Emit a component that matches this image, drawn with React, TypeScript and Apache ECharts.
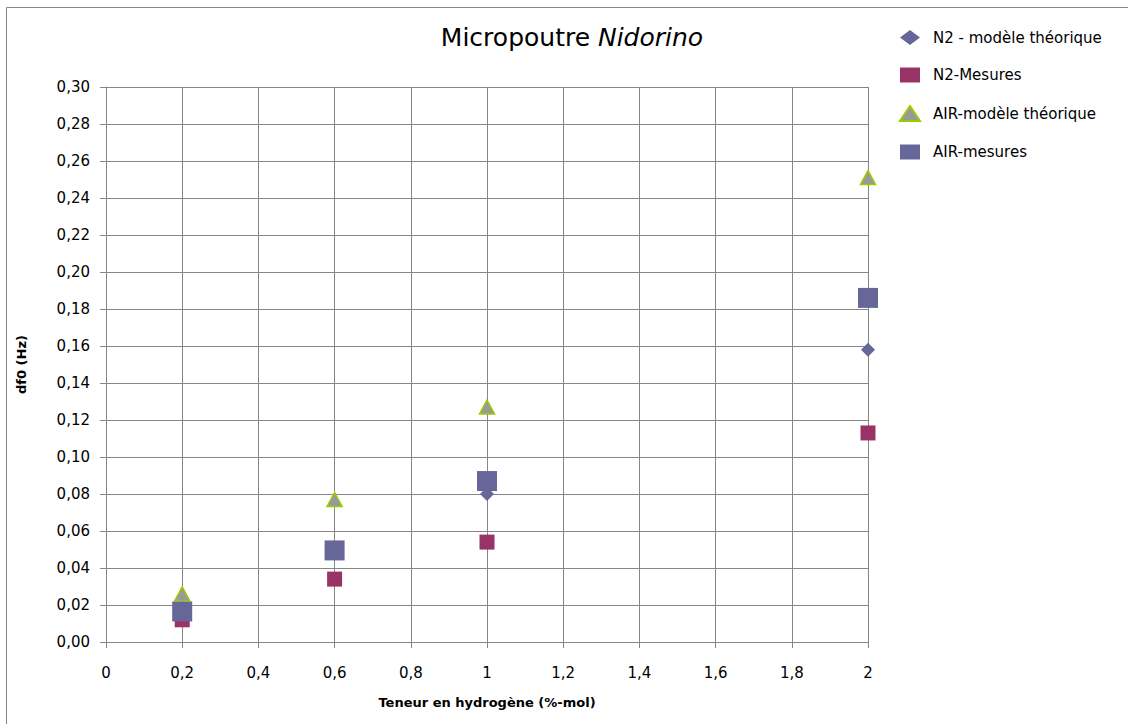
import React, { useEffect, useRef } from "react";
import * as echarts from "echarts";

const xTickLabels = ["0", "0,2", "0,4", "0,6", "0,8", "1", "1,2", "1,4", "1,6", "1,8", "2"];
const teneur = [0.2, 0.6, 1, 2];
const n2Theorique = [0.016, 0.049, 0.080, 0.158];
const n2Mesures = [0.012, 0.034, 0.054, 0.113];
const airTheorique = [0.026, 0.077, 0.127, 0.251];
const airMesures = [0.0165, 0.0495, 0.087, 0.186];

const seriesNames = ["N2 - modèle théorique", "N2-Mesures", "AIR-modèle théorique", "AIR-mesures"];

const FONT = "'DejaVu Sans', 'Open Sans', sans-serif";

function pairs(xs: number[], ys: number[]) {
  return xs.map((x, i) => [x, ys[i]]);
}

export default function App() {
  const ref = useRef<HTMLDivElement>(null);
  useEffect(() => {
    if (!ref.current) return;
    const chart = echarts.init(ref.current, null, { renderer: "svg" });
    const fmtX = (v: number) => {
      const idx = Math.round(v / 0.2);
      return xTickLabels[idx] ?? "";
    };
    chart.setOption({
      animation: false,
      backgroundColor: "#ffffff",
      title: {
        text: "Micropoutre {i|Nidorino}",
        left: 567,
        textAlign: "center",
        top: 20,
        textStyle: {
          fontFamily: FONT,
          fontSize: 25,
          fontWeight: "normal",
          color: "#000",
          rich: {
            i: { fontFamily: FONT, fontSize: 25, fontStyle: "italic", color: "#000" },
          },
        },
      },
      legend: {
        orient: "vertical",
        left: 894,
        top: 25,
        itemGap: 22.5,
        itemWidth: 20,
        itemHeight: 15,
        textStyle: { fontFamily: FONT, fontSize: 15, color: "#000", padding: [0, 0, 0, 8] },
        data: [
          { name: seriesNames[0], icon: "diamond" },
          { name: seriesNames[1], icon: "rect" },
          { name: seriesNames[2], icon: "triangle" },
          { name: seriesNames[3], icon: "rect" },
        ],
      },
      graphic: [
        {
          type: "rect",
          shape: { x: 6.5, y: 7.5, width: 1200, height: 800 },
          style: { fill: "none", stroke: "#868686", lineWidth: 1 },
          silent: true,
        },
      ],
      grid: { left: 106, right: 260, top: 87, bottom: 82 },
      xAxis: {
        type: "value",
        min: 0,
        max: 2,
        interval: 0.2,
        name: "Teneur en hydrogène (%-mol)",
        nameLocation: "middle",
        nameGap: 54,
        nameTextStyle: { fontFamily: FONT, fontSize: 13, fontWeight: "bold", color: "#000" },
        axisLine: { show: true, lineStyle: { color: "#868686" } },
        axisTick: { show: true, length: 6, lineStyle: { color: "#868686" } },
        axisLabel: { fontFamily: FONT, fontSize: 15, color: "#000", margin: 23, formatter: fmtX },
        splitLine: { show: true, lineStyle: { color: "#868686", width: 1 } },
      },
      yAxis: {
        type: "value",
        min: 0,
        max: 0.3,
        interval: 0.02,
        name: "df0 (Hz)",
        nameLocation: "middle",
        nameGap: 78,
        nameRotate: 90,
        nameTextStyle: { fontFamily: FONT, fontSize: 13, fontWeight: "bold", color: "#000" },
        axisLine: { show: true, lineStyle: { color: "#868686" } },
        axisTick: { show: true, length: 6, lineStyle: { color: "#868686" } },
        axisLabel: {
          fontFamily: FONT,
          fontSize: 15,
          color: "#000",
          margin: 16,
          formatter: (v: number) => v.toFixed(2).replace(".", ","),
        },
        splitLine: { show: true, lineStyle: { color: "#868686", width: 1 } },
      },
      series: [
        {
          name: seriesNames[0],
          type: "scatter",
          symbol: "diamond",
          symbolSize: 14,
          itemStyle: { color: "#666699", opacity: 1 },
          data: pairs(teneur, n2Theorique),
          z: 2,
        },
        {
          name: seriesNames[1],
          type: "scatter",
          symbol: "rect",
          symbolSize: 15,
          itemStyle: { color: "#993366", opacity: 1 },
          data: pairs(teneur, n2Mesures),
          z: 3,
        },
        {
          name: seriesNames[2],
          type: "scatter",
          symbol: "triangle",
          symbolSize: [15, 14],
          itemStyle: { color: "#999999", borderColor: "#99CC00", borderWidth: 1.5, opacity: 1 },
          data: pairs(teneur, airTheorique),
          z: 4,
        },
        {
          name: seriesNames[3],
          type: "scatter",
          symbol: "rect",
          symbolSize: 20,
          itemStyle: { color: "#666699", opacity: 1 },
          data: pairs(teneur, airMesures),
          z: 5,
        },
      ],
    });
    return () => chart.dispose();
  }, []);
  return (
    <div
      ref={ref}
      style={{ position: "fixed", left: 0, top: 0, width: 1128, height: 724 }}
    />
  );
}
